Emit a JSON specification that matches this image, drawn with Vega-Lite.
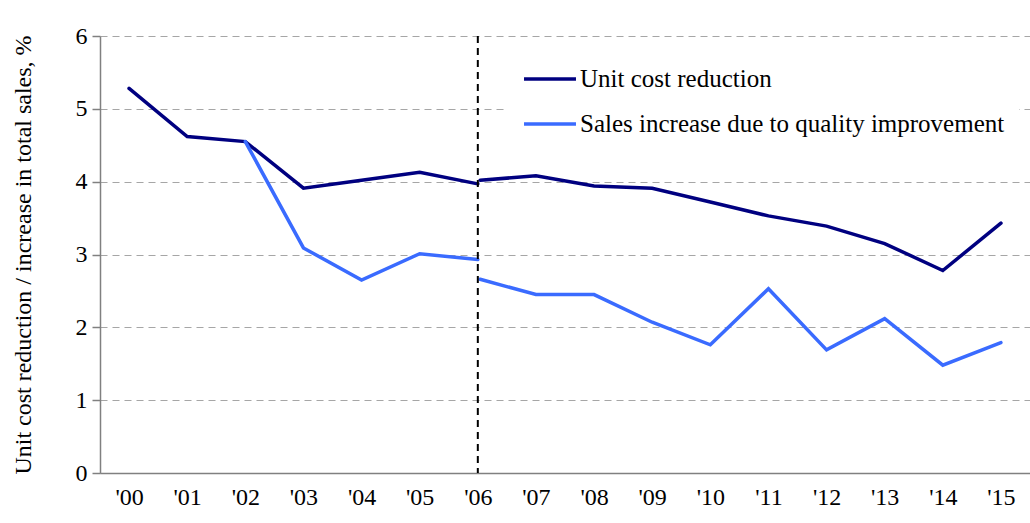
{
  "$schema": "https://vega.github.io/schema/vega-lite/v6.json",
  "autosize": {"type": "none"},
  "padding": {"left": 100, "top": 36, "right": 0, "bottom": 50},
  "width": 930,
  "height": 437,
  "background": "white",
  "config": {
    "font": "Liberation Serif",
    "view": {"stroke": null}
  },
  "datasets": {
    "lines": [
      {"year": 0, "value": 5.28, "series": "Unit cost reduction", "seg": "a1"},
      {"year": 1, "value": 4.62, "series": "Unit cost reduction", "seg": "a1"},
      {"year": 2, "value": 4.55, "series": "Unit cost reduction", "seg": "a1"},
      {"year": 3, "value": 3.91, "series": "Unit cost reduction", "seg": "a1"},
      {"year": 4, "value": 4.02, "series": "Unit cost reduction", "seg": "a1"},
      {"year": 5, "value": 4.13, "series": "Unit cost reduction", "seg": "a1"},
      {"year": 6, "value": 3.97, "series": "Unit cost reduction", "seg": "a1"},
      {"year": 6.04, "value": 4.02, "series": "Unit cost reduction", "seg": "a2"},
      {"year": 7, "value": 4.08, "series": "Unit cost reduction", "seg": "a2"},
      {"year": 8, "value": 3.94, "series": "Unit cost reduction", "seg": "a2"},
      {"year": 9, "value": 3.91, "series": "Unit cost reduction", "seg": "a2"},
      {"year": 10, "value": 3.72, "series": "Unit cost reduction", "seg": "a2"},
      {"year": 11, "value": 3.53, "series": "Unit cost reduction", "seg": "a2"},
      {"year": 12, "value": 3.39, "series": "Unit cost reduction", "seg": "a2"},
      {"year": 13, "value": 3.15, "series": "Unit cost reduction", "seg": "a2"},
      {"year": 14, "value": 2.78, "series": "Unit cost reduction", "seg": "a2"},
      {"year": 15, "value": 3.43, "series": "Unit cost reduction", "seg": "a2"},
      {"year": 2, "value": 4.55, "series": "Sales increase due to quality improvement", "seg": "b1"},
      {"year": 3, "value": 3.09, "series": "Sales increase due to quality improvement", "seg": "b1"},
      {"year": 4, "value": 2.65, "series": "Sales increase due to quality improvement", "seg": "b1"},
      {"year": 5, "value": 3.01, "series": "Sales increase due to quality improvement", "seg": "b1"},
      {"year": 6, "value": 2.93, "series": "Sales increase due to quality improvement", "seg": "b1"},
      {"year": 6.04, "value": 2.66, "series": "Sales increase due to quality improvement", "seg": "b2"},
      {"year": 7, "value": 2.45, "series": "Sales increase due to quality improvement", "seg": "b2"},
      {"year": 8, "value": 2.45, "series": "Sales increase due to quality improvement", "seg": "b2"},
      {"year": 9, "value": 2.07, "series": "Sales increase due to quality improvement", "seg": "b2"},
      {"year": 10, "value": 1.76, "series": "Sales increase due to quality improvement", "seg": "b2"},
      {"year": 11, "value": 2.53, "series": "Sales increase due to quality improvement", "seg": "b2"},
      {"year": 12, "value": 1.69, "series": "Sales increase due to quality improvement", "seg": "b2"},
      {"year": 13, "value": 2.12, "series": "Sales increase due to quality improvement", "seg": "b2"},
      {"year": 14, "value": 1.48, "series": "Sales increase due to quality improvement", "seg": "b2"},
      {"year": 15, "value": 1.79, "series": "Sales increase due to quality improvement", "seg": "b2"}
    ],
    "breakline": [{"year": 6}]
  },
  "layer": [
    {
      "data": {"name": "lines"},
      "mark": {"type": "line", "strokeWidth": 3.5, "strokeCap": "round", "strokeJoin": "miter"},
      "encoding": {
        "x": {
          "field": "year", "type": "quantitative",
          "scale": {"domain": [-0.5, 15.5], "nice": false, "zero": false},
          "axis": {
            "title": null,
            "values": [0,1,2,3,4,5,6,7,8,9,10,11,12,13,14,15],
            "labelExpr": "'\\'' + (datum.value < 10 ? '0' : '') + datum.value",
            "ticks": false,
            "grid": false,
            "domainColor": "#808080",
            "domainWidth": 1.5,
            "labelFont": "Liberation Serif",
            "labelFontSize": 24,
            "labelColor": "#000000",
            "labelPadding": 12,
            "labelFlush": false,
            "labelOverlap": false
          }
        },
        "y": {
          "field": "value", "type": "quantitative",
          "scale": {"domain": [0, 6], "nice": false},
          "axis": {
            "title": "Unit cost reduction / increase in total sales, %",
            "titleFont": "Liberation Serif",
            "titleFontSize": 24,
            "titleFontWeight": "normal",
            "titleColor": "#000000",
            "titlePadding": 40,
            "values": [0,1,2,3,4,5,6],
            "grid": true,
            "gridColor": "#A6A6A6",
            "gridDash": [7, 5],
            "gridWidth": 1.2,
            "domainColor": "#808080",
            "domainWidth": 1.5,
            "tickColor": "#808080",
            "tickSize": 8,
            "tickWidth": 1.5,
            "labelFont": "Liberation Serif",
            "labelFontSize": 24,
            "labelColor": "#000000",
            "labelPadding": 5
          }
        },
        "color": {
          "field": "series", "type": "nominal",
          "scale": {
            "domain": ["Unit cost reduction", "Sales increase due to quality improvement"],
            "range": ["#000080", "#3A6BFF"]
          },
          "legend": {
            "title": null,
            "orient": "none",
            "legendX": 408,
            "legendY": 1,
            "fillColor": "white",
            "padding": 14,
            "symbolType": "stroke",
            "symbolSize": 2700,
            "symbolStrokeWidth": 3.5,
            "labelFont": "Liberation Serif",
            "labelFontSize": 25,
            "labelColor": "#000000",
            "labelOffset": 2,
            "labelLimit": 600,
            "rowPadding": 4
          }
        },
        "detail": {"field": "seg"}
      }
    },
    {
      "data": {"name": "breakline"},
      "mark": {"type": "rule", "color": "#000000", "strokeWidth": 2, "strokeDash": [7, 5]},
      "encoding": {
        "x": {"field": "year", "type": "quantitative"}
      }
    }
  ]
}
